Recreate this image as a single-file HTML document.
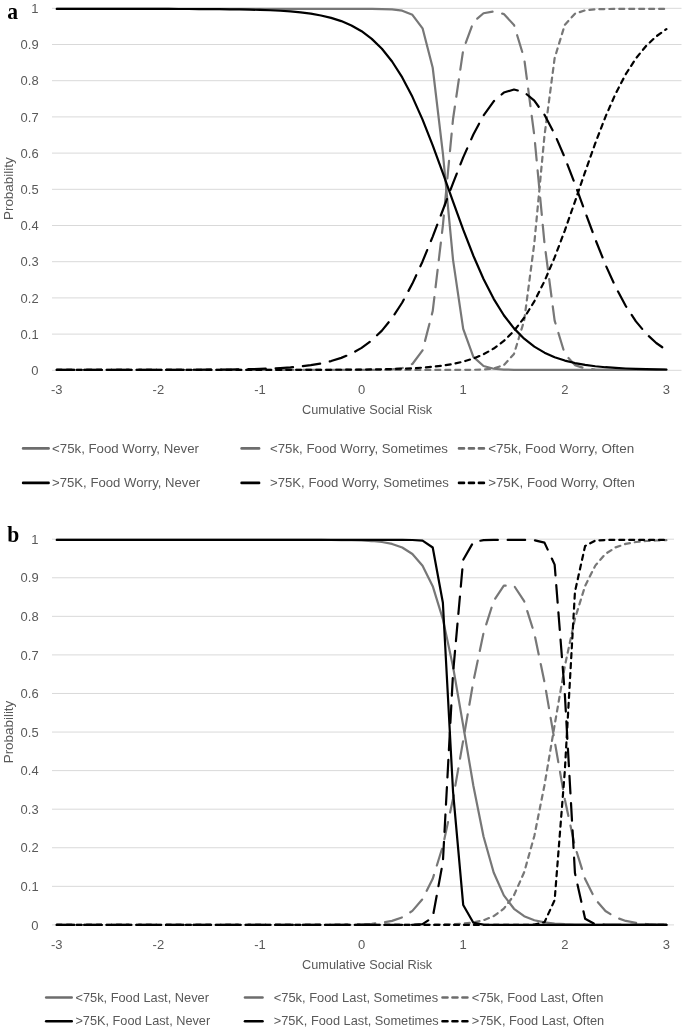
<!DOCTYPE html>
<html><head><meta charset="utf-8"><style>
html,body{margin:0;padding:0;background:#fff;width:685px;height:1031px;overflow:hidden}
svg{display:block;filter:grayscale(1)}
text{font-family:"Liberation Sans", sans-serif}
</style></head><body>
<svg width="685" height="1031" viewBox="0 0 685 1031">
<rect width="685" height="1031" fill="#fff"/>
<line x1="52" y1="370.30" x2="681.5" y2="370.30" stroke="#d9d9d9" stroke-width="1"/>
<line x1="52" y1="334.10" x2="681.5" y2="334.10" stroke="#d9d9d9" stroke-width="1"/>
<line x1="52" y1="297.90" x2="681.5" y2="297.90" stroke="#d9d9d9" stroke-width="1"/>
<line x1="52" y1="261.70" x2="681.5" y2="261.70" stroke="#d9d9d9" stroke-width="1"/>
<line x1="52" y1="225.50" x2="681.5" y2="225.50" stroke="#d9d9d9" stroke-width="1"/>
<line x1="52" y1="189.30" x2="681.5" y2="189.30" stroke="#d9d9d9" stroke-width="1"/>
<line x1="52" y1="153.10" x2="681.5" y2="153.10" stroke="#d9d9d9" stroke-width="1"/>
<line x1="52" y1="116.90" x2="681.5" y2="116.90" stroke="#d9d9d9" stroke-width="1"/>
<line x1="52" y1="80.70" x2="681.5" y2="80.70" stroke="#d9d9d9" stroke-width="1"/>
<line x1="52" y1="44.50" x2="681.5" y2="44.50" stroke="#d9d9d9" stroke-width="1"/>
<line x1="52" y1="8.30" x2="681.5" y2="8.30" stroke="#d9d9d9" stroke-width="1"/>
<text x="38.6" y="374.90" font-size="13" text-anchor="end" fill="#595959">0</text>
<text x="38.6" y="338.70" font-size="13" text-anchor="end" fill="#595959" textLength="18.0" lengthAdjust="spacingAndGlyphs">0.1</text>
<text x="38.6" y="302.50" font-size="13" text-anchor="end" fill="#595959" textLength="18.0" lengthAdjust="spacingAndGlyphs">0.2</text>
<text x="38.6" y="266.30" font-size="13" text-anchor="end" fill="#595959" textLength="18.0" lengthAdjust="spacingAndGlyphs">0.3</text>
<text x="38.6" y="230.10" font-size="13" text-anchor="end" fill="#595959" textLength="18.0" lengthAdjust="spacingAndGlyphs">0.4</text>
<text x="38.6" y="193.90" font-size="13" text-anchor="end" fill="#595959" textLength="18.0" lengthAdjust="spacingAndGlyphs">0.5</text>
<text x="38.6" y="157.70" font-size="13" text-anchor="end" fill="#595959" textLength="18.0" lengthAdjust="spacingAndGlyphs">0.6</text>
<text x="38.6" y="121.50" font-size="13" text-anchor="end" fill="#595959" textLength="18.0" lengthAdjust="spacingAndGlyphs">0.7</text>
<text x="38.6" y="85.30" font-size="13" text-anchor="end" fill="#595959" textLength="18.0" lengthAdjust="spacingAndGlyphs">0.8</text>
<text x="38.6" y="49.10" font-size="13" text-anchor="end" fill="#595959" textLength="18.0" lengthAdjust="spacingAndGlyphs">0.9</text>
<text x="38.6" y="12.90" font-size="13" text-anchor="end" fill="#595959">1</text>
<text x="56.80" y="393.5" font-size="13" text-anchor="middle" fill="#595959">-3</text>
<text x="158.40" y="393.5" font-size="13" text-anchor="middle" fill="#595959">-2</text>
<text x="260.00" y="393.5" font-size="13" text-anchor="middle" fill="#595959">-1</text>
<text x="361.60" y="393.5" font-size="13" text-anchor="middle" fill="#595959">0</text>
<text x="463.20" y="393.5" font-size="13" text-anchor="middle" fill="#595959">1</text>
<text x="564.80" y="393.5" font-size="13" text-anchor="middle" fill="#595959">2</text>
<text x="666.40" y="393.5" font-size="13" text-anchor="middle" fill="#595959">3</text>
<text x="302.0" y="414.3" font-size="13" text-anchor="start" fill="#595959" textLength="130.2" lengthAdjust="spacingAndGlyphs">Cumulative Social Risk</text>
<text transform="translate(13.4,188.7) rotate(-90)" x="0" y="0" font-size="13" text-anchor="middle" fill="#595959" textLength="62.6" lengthAdjust="spacingAndGlyphs">Probability</text>
<polyline points="56.80,8.90 66.96,8.90 77.12,8.90 87.28,8.90 97.44,8.90 107.60,8.90 117.76,8.90 127.92,8.90 138.08,8.90 148.24,8.90 158.40,8.90 168.56,8.90 178.72,8.90 188.88,8.90 199.04,8.90 209.20,8.90 219.36,8.90 229.52,8.90 239.68,8.90 249.84,8.90 260.00,8.90 270.16,8.90 280.32,8.90 290.48,8.90 300.64,8.90 310.80,8.90 320.96,8.90 331.12,8.90 341.28,8.90 351.44,8.90 361.60,8.91 371.76,8.94 381.92,9.05 392.08,9.41 402.24,10.65 412.40,14.81 422.56,28.35 432.72,67.75 442.88,153.26 453.04,259.83 463.20,328.88 473.36,356.86 483.52,365.99 493.68,368.75 503.84,369.56 514.00,369.80 524.16,369.87 534.32,369.89 544.48,369.90 554.64,369.90 564.80,369.90 574.96,369.90 585.12,369.90 595.28,369.90 605.44,369.90 615.60,369.90 625.76,369.90 635.92,369.90 646.08,369.90 656.24,369.90 666.40,369.90" fill="none" stroke="#777777" stroke-width="2.2" stroke-linejoin="round" stroke-linecap="round"/>
<polyline points="56.80,369.90 66.96,369.90 77.12,369.90 87.28,369.90 97.44,369.90 107.60,369.90 117.76,369.90 127.92,369.90 138.08,369.90 148.24,369.90 158.40,369.90 168.56,369.90 178.72,369.90 188.88,369.90 199.04,369.90 209.20,369.90 219.36,369.90 229.52,369.90 239.68,369.90 249.84,369.90 260.00,369.90 270.16,369.90 280.32,369.90 290.48,369.90 300.64,369.90 310.80,369.90 320.96,369.90 331.12,369.90 341.28,369.90 351.44,369.90 361.60,369.89 371.76,369.86 381.92,369.75 392.08,369.39 402.24,368.15 412.40,363.99 422.56,350.45 432.72,311.05 442.88,225.54 453.04,118.98 463.20,49.96 473.36,22.06 483.52,13.23 493.68,11.47 503.84,14.05 514.00,24.94 524.16,58.19 534.32,135.59 544.48,243.22 554.64,320.64 564.80,353.96 574.96,365.09 585.12,368.48 595.28,369.48 605.44,369.78 615.60,369.86 625.76,369.89 635.92,369.90 646.08,369.90 656.24,369.90 666.40,369.90" fill="none" stroke="#777777" stroke-width="2.2" stroke-linejoin="round" stroke-linecap="round" stroke-dasharray="17.5 9.8800"/>
<polyline points="56.80,369.90 66.96,369.90 77.12,369.90 87.28,369.90 97.44,369.90 107.60,369.90 117.76,369.90 127.92,369.90 138.08,369.90 148.24,369.90 158.40,369.90 168.56,369.90 178.72,369.90 188.88,369.90 199.04,369.90 209.20,369.90 219.36,369.90 229.52,369.90 239.68,369.90 249.84,369.90 260.00,369.90 270.16,369.90 280.32,369.90 290.48,369.90 300.64,369.90 310.80,369.90 320.96,369.90 331.12,369.90 341.28,369.90 351.44,369.90 361.60,369.90 371.76,369.90 381.92,369.90 392.08,369.90 402.24,369.90 412.40,369.90 422.56,369.90 432.72,369.90 442.88,369.90 453.04,369.89 463.20,369.86 473.36,369.78 483.52,369.48 493.68,368.48 503.84,365.09 514.00,353.96 524.16,320.64 534.32,243.22 544.48,135.58 554.64,58.16 564.80,24.84 574.96,13.71 585.12,10.32 595.28,9.32 605.44,9.02 615.60,8.94 625.76,8.91 635.92,8.90 646.08,8.90 656.24,8.90 666.40,8.90" fill="none" stroke="#777777" stroke-width="2.2" stroke-linejoin="round" stroke-linecap="round" stroke-dasharray="5.0 4.9610"/>
<polyline points="56.80,8.90 66.96,8.90 77.12,8.90 87.28,8.90 97.44,8.91 107.60,8.91 117.76,8.91 127.92,8.92 138.08,8.92 148.24,8.93 158.40,8.94 168.56,8.96 178.72,8.98 188.88,9.01 199.04,9.05 209.20,9.10 219.36,9.18 229.52,9.28 239.68,9.43 249.84,9.62 260.00,9.89 270.16,10.26 280.32,10.77 290.48,11.46 300.64,12.41 310.80,13.70 320.96,15.46 331.12,17.85 341.28,21.08 351.44,25.42 361.60,31.21 371.76,38.85 381.92,48.80 392.08,61.53 402.24,77.46 412.40,96.83 422.56,119.61 432.72,145.33 442.88,173.12 453.04,201.70 463.20,229.67 473.36,255.75 483.52,278.98 493.68,298.84 503.84,315.24 514.00,328.39 524.16,338.71 534.32,346.64 544.48,352.67 554.64,357.19 564.80,360.56 574.96,363.05 585.12,364.89 595.28,366.24 605.44,367.22 615.60,367.95 625.76,368.48 635.92,368.86 646.08,369.14 656.24,369.35 666.40,369.50" fill="none" stroke="#000000" stroke-width="2.2" stroke-linejoin="round" stroke-linecap="round"/>
<polyline points="56.80,369.90 66.96,369.90 77.12,369.90 87.28,369.90 97.44,369.89 107.60,369.89 117.76,369.89 127.92,369.88 138.08,369.88 148.24,369.87 158.40,369.86 168.56,369.84 178.72,369.82 188.88,369.79 199.04,369.75 209.20,369.70 219.36,369.62 229.52,369.52 239.68,369.38 249.84,369.19 260.00,368.92 270.16,368.56 280.32,368.06 290.48,367.37 300.64,366.44 310.80,365.16 320.96,363.43 331.12,361.07 341.28,357.88 351.44,353.61 361.60,347.91 371.76,340.39 381.92,330.61 392.08,318.11 402.24,302.51 412.40,283.59 422.56,261.44 432.72,236.59 442.88,210.01 453.04,183.09 463.20,157.39 473.36,134.43 483.52,115.45 493.68,101.31 503.84,92.56 514.00,89.48 524.16,92.19 534.32,100.70 544.48,114.82 554.64,134.08 564.80,157.61 574.96,184.10 585.12,211.88 595.28,239.23 605.44,264.64 615.60,287.07 625.76,306.01 635.92,321.42 646.08,333.60 656.24,342.99 666.40,350.11" fill="none" stroke="#000000" stroke-width="2.2" stroke-linejoin="round" stroke-linecap="round" stroke-dasharray="17.5 9.8505"/>
<polyline points="56.80,369.90 66.96,369.90 77.12,369.90 87.28,369.90 97.44,369.90 107.60,369.90 117.76,369.90 127.92,369.90 138.08,369.90 148.24,369.90 158.40,369.90 168.56,369.90 178.72,369.90 188.88,369.90 199.04,369.90 209.20,369.90 219.36,369.90 229.52,369.90 239.68,369.89 249.84,369.89 260.00,369.89 270.16,369.88 280.32,369.88 290.48,369.87 300.64,369.86 310.80,369.84 320.96,369.82 331.12,369.78 341.28,369.74 351.44,369.67 361.60,369.59 371.76,369.46 381.92,369.29 392.08,369.06 402.24,368.73 412.40,368.28 422.56,367.65 432.72,366.78 442.88,365.57 453.04,363.91 463.20,361.64 473.36,358.52 483.52,354.28 493.68,348.55 503.84,340.90 514.00,330.83 524.16,317.80 534.32,301.36 544.48,281.22 554.64,257.43 564.80,230.53 574.96,201.56 585.12,171.94 595.28,143.24 605.44,116.84 615.60,93.68 625.76,74.21 635.92,58.41 646.08,45.96 656.24,36.36 666.40,29.09" fill="none" stroke="#000000" stroke-width="2.2" stroke-linejoin="round" stroke-linecap="round" stroke-dasharray="5.0 4.9771"/>
<line x1="23.10" y1="448.4" x2="48.60" y2="448.4" stroke="#6d6d6d" stroke-width="2.6" stroke-linecap="round"/>
<text x="52.10" y="452.8" font-size="13" text-anchor="start" fill="#595959" textLength="146.90" lengthAdjust="spacingAndGlyphs">&lt;75k, Food Worry, Never</text>
<line x1="241.60" y1="448.4" x2="267.10" y2="448.4" stroke="#6d6d6d" stroke-width="2.6" stroke-linecap="round" stroke-dasharray="17.5 9.85"/>
<text x="270.00" y="452.8" font-size="13" text-anchor="start" fill="#595959" textLength="178.00" lengthAdjust="spacingAndGlyphs">&lt;75k, Food Worry, Sometimes</text>
<line x1="459.00" y1="448.4" x2="484.50" y2="448.4" stroke="#6d6d6d" stroke-width="2.6" stroke-linecap="round" stroke-dasharray="5.0 4.96"/>
<text x="488.20" y="452.8" font-size="13" text-anchor="start" fill="#595959" textLength="146.00" lengthAdjust="spacingAndGlyphs">&lt;75k, Food Worry, Often</text>
<line x1="23.10" y1="482.9" x2="48.60" y2="482.9" stroke="#000000" stroke-width="2.6" stroke-linecap="round"/>
<text x="52.10" y="487.3" font-size="13" text-anchor="start" fill="#595959" textLength="148.00" lengthAdjust="spacingAndGlyphs">&gt;75K, Food Worry, Never</text>
<line x1="241.60" y1="482.9" x2="267.10" y2="482.9" stroke="#000000" stroke-width="2.6" stroke-linecap="round" stroke-dasharray="17.5 9.85"/>
<text x="270.00" y="487.3" font-size="13" text-anchor="start" fill="#595959" textLength="178.90" lengthAdjust="spacingAndGlyphs">&gt;75K, Food Worry, Sometimes</text>
<line x1="459.00" y1="482.9" x2="484.50" y2="482.9" stroke="#000000" stroke-width="2.6" stroke-linecap="round" stroke-dasharray="5.0 4.96"/>
<text x="488.20" y="487.3" font-size="13" text-anchor="start" fill="#595959" textLength="146.70" lengthAdjust="spacingAndGlyphs">&gt;75K, Food Worry, Often</text>
<text transform="translate(7.25,18.8) scale(0.9,1)" x="0" y="0" style="font-family:'Liberation Serif', serif;font-weight:bold;font-size:24px" fill="#000">a</text>
<line x1="52" y1="924.90" x2="674" y2="924.90" stroke="#d9d9d9" stroke-width="1"/>
<line x1="52" y1="886.33" x2="674" y2="886.33" stroke="#d9d9d9" stroke-width="1"/>
<line x1="52" y1="847.76" x2="674" y2="847.76" stroke="#d9d9d9" stroke-width="1"/>
<line x1="52" y1="809.19" x2="674" y2="809.19" stroke="#d9d9d9" stroke-width="1"/>
<line x1="52" y1="770.62" x2="674" y2="770.62" stroke="#d9d9d9" stroke-width="1"/>
<line x1="52" y1="732.05" x2="674" y2="732.05" stroke="#d9d9d9" stroke-width="1"/>
<line x1="52" y1="693.48" x2="674" y2="693.48" stroke="#d9d9d9" stroke-width="1"/>
<line x1="52" y1="654.91" x2="674" y2="654.91" stroke="#d9d9d9" stroke-width="1"/>
<line x1="52" y1="616.34" x2="674" y2="616.34" stroke="#d9d9d9" stroke-width="1"/>
<line x1="52" y1="577.77" x2="674" y2="577.77" stroke="#d9d9d9" stroke-width="1"/>
<line x1="52" y1="539.20" x2="674" y2="539.20" stroke="#d9d9d9" stroke-width="1"/>
<text x="38.6" y="929.50" font-size="13" text-anchor="end" fill="#595959">0</text>
<text x="38.6" y="890.93" font-size="13" text-anchor="end" fill="#595959" textLength="18.0" lengthAdjust="spacingAndGlyphs">0.1</text>
<text x="38.6" y="852.36" font-size="13" text-anchor="end" fill="#595959" textLength="18.0" lengthAdjust="spacingAndGlyphs">0.2</text>
<text x="38.6" y="813.79" font-size="13" text-anchor="end" fill="#595959" textLength="18.0" lengthAdjust="spacingAndGlyphs">0.3</text>
<text x="38.6" y="775.22" font-size="13" text-anchor="end" fill="#595959" textLength="18.0" lengthAdjust="spacingAndGlyphs">0.4</text>
<text x="38.6" y="736.65" font-size="13" text-anchor="end" fill="#595959" textLength="18.0" lengthAdjust="spacingAndGlyphs">0.5</text>
<text x="38.6" y="698.08" font-size="13" text-anchor="end" fill="#595959" textLength="18.0" lengthAdjust="spacingAndGlyphs">0.6</text>
<text x="38.6" y="659.51" font-size="13" text-anchor="end" fill="#595959" textLength="18.0" lengthAdjust="spacingAndGlyphs">0.7</text>
<text x="38.6" y="620.94" font-size="13" text-anchor="end" fill="#595959" textLength="18.0" lengthAdjust="spacingAndGlyphs">0.8</text>
<text x="38.6" y="582.37" font-size="13" text-anchor="end" fill="#595959" textLength="18.0" lengthAdjust="spacingAndGlyphs">0.9</text>
<text x="38.6" y="543.80" font-size="13" text-anchor="end" fill="#595959">1</text>
<text x="56.80" y="948.8" font-size="13" text-anchor="middle" fill="#595959">-3</text>
<text x="158.40" y="948.8" font-size="13" text-anchor="middle" fill="#595959">-2</text>
<text x="260.00" y="948.8" font-size="13" text-anchor="middle" fill="#595959">-1</text>
<text x="361.60" y="948.8" font-size="13" text-anchor="middle" fill="#595959">0</text>
<text x="463.20" y="948.8" font-size="13" text-anchor="middle" fill="#595959">1</text>
<text x="564.80" y="948.8" font-size="13" text-anchor="middle" fill="#595959">2</text>
<text x="666.40" y="948.8" font-size="13" text-anchor="middle" fill="#595959">3</text>
<text x="302.0" y="968.9" font-size="13" text-anchor="start" fill="#595959" textLength="130.2" lengthAdjust="spacingAndGlyphs">Cumulative Social Risk</text>
<text transform="translate(13.4,732.0) rotate(-90)" x="0" y="0" font-size="13" text-anchor="middle" fill="#595959" textLength="62.6" lengthAdjust="spacingAndGlyphs">Probability</text>
<polyline points="56.80,539.90 66.96,539.90 77.12,539.90 87.28,539.90 97.44,539.90 107.60,539.90 117.76,539.90 127.92,539.90 138.08,539.90 148.24,539.90 158.40,539.90 168.56,539.90 178.72,539.90 188.88,539.90 199.04,539.90 209.20,539.90 219.36,539.90 229.52,539.90 239.68,539.90 249.84,539.90 260.00,539.90 270.16,539.90 280.32,539.90 290.48,539.91 300.64,539.91 310.80,539.92 320.96,539.95 331.12,539.99 341.28,540.07 351.44,540.21 361.60,540.50 371.76,541.03 381.92,542.03 392.08,543.92 402.24,547.46 412.40,553.99 422.56,565.77 432.72,586.18 442.88,619.13 453.04,666.76 463.20,725.63 473.36,785.79 483.52,836.44 493.68,872.57 503.84,895.41 514.00,908.77 524.16,916.22 534.32,920.27 544.48,922.45 554.64,923.60 564.80,924.21 574.96,924.54 585.12,924.71 595.28,924.80 605.44,924.85 615.60,924.87 625.76,924.89 635.92,924.89 646.08,924.90 656.24,924.90 666.40,924.90" fill="none" stroke="#777777" stroke-width="2.2" stroke-linejoin="round" stroke-linecap="round"/>
<polyline points="56.80,924.90 66.96,924.90 77.12,924.90 87.28,924.90 97.44,924.90 107.60,924.90 117.76,924.90 127.92,924.90 138.08,924.90 148.24,924.90 158.40,924.90 168.56,924.90 178.72,924.90 188.88,924.90 199.04,924.90 209.20,924.90 219.36,924.90 229.52,924.90 239.68,924.90 249.84,924.90 260.00,924.90 270.16,924.90 280.32,924.90 290.48,924.89 300.64,924.89 310.80,924.88 320.96,924.85 331.12,924.81 341.28,924.73 351.44,924.59 361.60,924.31 371.76,923.78 381.92,922.78 392.08,920.89 402.24,917.37 412.40,910.86 422.56,899.13 432.72,878.81 442.88,846.03 453.04,798.73 463.20,740.48 473.36,681.48 483.52,633.02 493.68,600.96 503.84,585.62 514.00,585.69 524.16,601.20 534.32,633.42 544.48,682.03 554.64,741.09 564.80,799.27 574.96,846.43 585.12,879.07 595.28,899.28 605.44,910.95 615.60,917.41 625.76,920.92 635.92,922.79 646.08,923.78 656.24,924.31 666.40,924.59" fill="none" stroke="#777777" stroke-width="2.2" stroke-linejoin="round" stroke-linecap="round" stroke-dasharray="17.5 9.8667"/>
<polyline points="56.80,924.90 66.96,924.90 77.12,924.90 87.28,924.90 97.44,924.90 107.60,924.90 117.76,924.90 127.92,924.90 138.08,924.90 148.24,924.90 158.40,924.90 168.56,924.90 178.72,924.90 188.88,924.90 199.04,924.90 209.20,924.90 219.36,924.90 229.52,924.90 239.68,924.90 249.84,924.90 260.00,924.90 270.16,924.90 280.32,924.90 290.48,924.90 300.64,924.90 310.80,924.90 320.96,924.90 331.12,924.90 341.28,924.90 351.44,924.90 361.60,924.90 371.76,924.90 381.92,924.89 392.08,924.89 402.24,924.87 412.40,924.85 422.56,924.80 432.72,924.71 442.88,924.54 453.04,924.21 463.20,923.59 473.36,922.43 483.52,920.25 493.68,916.17 503.84,908.67 514.00,895.24 524.16,872.28 534.32,836.00 544.48,785.22 554.64,725.01 564.80,666.22 574.96,618.73 585.12,585.92 595.28,565.62 605.44,553.90 615.60,547.41 625.76,543.90 635.92,542.02 646.08,541.02 656.24,540.49 666.40,540.21" fill="none" stroke="#777777" stroke-width="2.2" stroke-linejoin="round" stroke-linecap="round" stroke-dasharray="5.0 4.9517"/>
<polyline points="56.80,539.90 66.96,539.90 77.12,539.90 87.28,539.90 97.44,539.90 107.60,539.90 117.76,539.90 127.92,539.90 138.08,539.90 148.24,539.90 158.40,539.90 168.56,539.90 178.72,539.90 188.88,539.90 199.04,539.90 209.20,539.90 219.36,539.90 229.52,539.90 239.68,539.90 249.84,539.90 260.00,539.90 270.16,539.90 280.32,539.90 290.48,539.90 300.64,539.90 310.80,539.90 320.96,539.90 331.12,539.90 341.28,539.90 351.44,539.90 361.60,539.90 371.76,539.90 381.92,539.90 392.08,539.90 402.24,539.91 412.40,539.98 422.56,540.70 432.72,547.51 442.88,602.74 453.04,791.60 463.20,904.93 473.36,922.74 483.52,924.68 493.68,924.88 503.84,924.90 514.00,924.90 524.16,924.90 534.32,924.90 544.48,924.90 554.64,924.90 564.80,924.90 574.96,924.90 585.12,924.90 595.28,924.90 605.44,924.90 615.60,924.90 625.76,924.90 635.92,924.90 646.08,924.90 656.24,924.90 666.40,924.90" fill="none" stroke="#000000" stroke-width="2.2" stroke-linejoin="round" stroke-linecap="round"/>
<polyline points="56.80,924.90 66.96,924.90 77.12,924.90 87.28,924.90 97.44,924.90 107.60,924.90 117.76,924.90 127.92,924.90 138.08,924.90 148.24,924.90 158.40,924.90 168.56,924.90 178.72,924.90 188.88,924.90 199.04,924.90 209.20,924.90 219.36,924.90 229.52,924.90 239.68,924.90 249.84,924.90 260.00,924.90 270.16,924.90 280.32,924.90 290.48,924.90 300.64,924.90 310.80,924.90 320.96,924.90 331.12,924.90 341.28,924.90 351.44,924.90 361.60,924.90 371.76,924.90 381.92,924.90 392.08,924.90 402.24,924.89 412.40,924.82 422.56,924.10 432.72,917.29 442.88,862.06 453.04,673.20 463.20,559.87 473.36,542.06 483.52,540.12 493.68,539.92 503.84,539.90 514.00,539.90 524.16,539.93 534.32,540.18 544.48,542.61 554.64,564.64 564.80,693.61 574.96,873.10 585.12,918.81 595.28,924.26 605.44,924.83 615.60,924.89 625.76,924.90 635.92,924.90 646.08,924.90 656.24,924.90 666.40,924.90" fill="none" stroke="#000000" stroke-width="2.2" stroke-linejoin="round" stroke-linecap="round" stroke-dasharray="17.5 9.8134"/>
<polyline points="56.80,924.90 66.96,924.90 77.12,924.90 87.28,924.90 97.44,924.90 107.60,924.90 117.76,924.90 127.92,924.90 138.08,924.90 148.24,924.90 158.40,924.90 168.56,924.90 178.72,924.90 188.88,924.90 199.04,924.90 209.20,924.90 219.36,924.90 229.52,924.90 239.68,924.90 249.84,924.90 260.00,924.90 270.16,924.90 280.32,924.90 290.48,924.90 300.64,924.90 310.80,924.90 320.96,924.90 331.12,924.90 341.28,924.90 351.44,924.90 361.60,924.90 371.76,924.90 381.92,924.90 392.08,924.90 402.24,924.90 412.40,924.90 422.56,924.90 432.72,924.90 442.88,924.90 453.04,924.90 463.20,924.90 473.36,924.90 483.52,924.90 493.68,924.90 503.84,924.90 514.00,924.90 524.16,924.87 534.32,924.62 544.48,922.19 554.64,900.16 564.80,771.19 574.96,591.70 585.12,545.99 595.28,540.54 605.44,539.97 615.60,539.91 625.76,539.90 635.92,539.90 646.08,539.90 656.24,539.90 666.40,539.90" fill="none" stroke="#000000" stroke-width="2.2" stroke-linejoin="round" stroke-linecap="round" stroke-dasharray="5.0 4.9311"/>
<line x1="46.20" y1="997.5" x2="71.70" y2="997.5" stroke="#6d6d6d" stroke-width="2.6" stroke-linecap="round"/>
<text x="75.40" y="1002.1" font-size="13" text-anchor="start" fill="#595959" textLength="133.60" lengthAdjust="spacingAndGlyphs">&lt;75k, Food Last, Never</text>
<line x1="245.00" y1="997.5" x2="270.50" y2="997.5" stroke="#6d6d6d" stroke-width="2.6" stroke-linecap="round" stroke-dasharray="17.5 9.85"/>
<text x="273.70" y="1002.1" font-size="13" text-anchor="start" fill="#595959" textLength="164.40" lengthAdjust="spacingAndGlyphs">&lt;75k, Food Last, Sometimes</text>
<line x1="442.50" y1="997.5" x2="468.00" y2="997.5" stroke="#6d6d6d" stroke-width="2.6" stroke-linecap="round" stroke-dasharray="5.0 4.96"/>
<text x="471.70" y="1002.1" font-size="13" text-anchor="start" fill="#595959" textLength="131.70" lengthAdjust="spacingAndGlyphs">&lt;75k, Food Last, Often</text>
<line x1="46.20" y1="1021.2" x2="71.70" y2="1021.2" stroke="#000000" stroke-width="2.6" stroke-linecap="round"/>
<text x="75.40" y="1025.3" font-size="13" text-anchor="start" fill="#595959" textLength="134.80" lengthAdjust="spacingAndGlyphs">&gt;75K, Food Last, Never</text>
<line x1="245.00" y1="1021.2" x2="270.50" y2="1021.2" stroke="#000000" stroke-width="2.6" stroke-linecap="round" stroke-dasharray="17.5 9.85"/>
<text x="273.70" y="1025.3" font-size="13" text-anchor="start" fill="#595959" textLength="165.00" lengthAdjust="spacingAndGlyphs">&gt;75K, Food Last, Sometimes</text>
<line x1="442.50" y1="1021.2" x2="468.00" y2="1021.2" stroke="#000000" stroke-width="2.6" stroke-linecap="round" stroke-dasharray="5.0 4.96"/>
<text x="471.70" y="1025.3" font-size="13" text-anchor="start" fill="#595959" textLength="132.50" lengthAdjust="spacingAndGlyphs">&gt;75K, Food Last, Often</text>
<text transform="translate(7.25,542.4) scale(0.9,1)" x="0" y="0" style="font-family:'Liberation Serif', serif;font-weight:bold;font-size:24px" fill="#000">b</text>
</svg>
</body></html>
